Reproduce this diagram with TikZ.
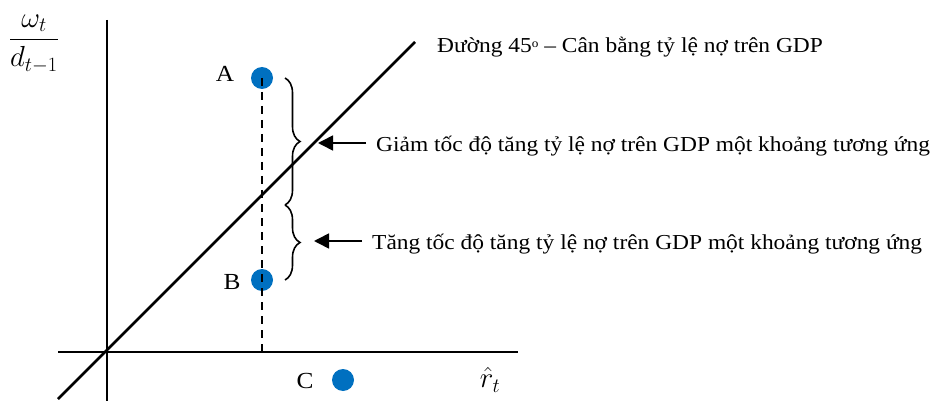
\RequirePackage{fix-cm}
\documentclass[tikz,border=0pt]{standalone}
\usepackage{amsmath}
\usepackage{fontspec}
\setmainfont{Liberation Serif}[FakeStretch=1.1]
\usetikzlibrary{decorations.pathreplacing,arrows.meta}
\definecolor{dotblue}{HTML}{0070C0}
\begin{document}
\begin{tikzpicture}[x=1pt,y=-1pt,
  axis/.style={line width=2.5pt},
  dotnode/.style={circle,fill=dotblue,inner sep=0pt,minimum size=22pt},
  lbl/.style={font=\fontsize{21.3}{24}\selectfont,inner sep=0pt},
  letter/.style={font=\fontsize{23}{26}\selectfont,inner sep=0pt},
  mathlbl/.style={font=\fontsize{29}{32}\selectfont,inner sep=0pt},
  bracestyle/.style={decorate,decoration={brace,amplitude=15pt},line width=1.6pt},
  arr/.style={line width=1.6pt,-{Triangle[length=15pt,width=15pt]}}]
\useasboundingbox (0,0) rectangle (935,401);
% axes
\coordinate (ytop) at (107,20);
\coordinate (ybot) at (107,401);
\coordinate (xl) at (58,352);
\coordinate (xr) at (518,352);
\draw[axis] (ytop) -- (ybot);
\draw[axis] (xl) -- (xr);
\coordinate (d1) at (58,399);
\coordinate (d2) at (415,42);
\draw[axis] (d1) -- (d2);
% points
\node[dotnode] (A) at (262,78) {};
\node[dotnode] (B) at (262,280) {};
\node[dotnode] (C) at (343,380) {};
\coordinate (foot) at (262,352);
\draw[line width=2.3pt,dash pattern=on 8pt off 6pt] (A.center) -- (foot);
\node[letter] (la) at (225,74) {A};
\node[letter] (lb) at (232,282) {B};
\node[letter] (lc) at (305,381) {C};
% braces
\coordinate (b1) at (285,78);
\coordinate (b2) at (285,205);
\coordinate (b3) at (285,280);
\draw[bracestyle] (b1) -- (b2);
\draw[bracestyle] (b2) -- (b3);
% arrows and texts
\node[lbl,anchor=west] (t1) at (376,146) {Giảm tốc độ tăng tỷ lệ nợ trên GDP một khoảng tương ứng};
\node[lbl,anchor=west] (t2) at (372,244) {Tăng tốc độ tăng tỷ lệ nợ trên GDP một khoảng tương ứng};
\coordinate (a1s) at (366,143);
\coordinate (a1e) at (318,143);
\coordinate (a2s) at (362,241);
\coordinate (a2e) at (314,241);
\draw[arr] (a1s) -- (a1e);
\draw[arr] (a2s) -- (a2e);
\node[lbl,anchor=west] (title) at (437,47) {Đường 45\raisebox{0.55ex}{\fontsize{12}{14}\selectfont o} – Cân bằng tỷ lệ nợ trên GDP};
% axis labels
\node[mathlbl] (ylab) at (34,44) {$\dfrac{\omega_t}{d_{t-1}}$};
\node[mathlbl] (xlab) at (490,380) {$\hat{r}_t$};
\end{tikzpicture}
\end{document}
